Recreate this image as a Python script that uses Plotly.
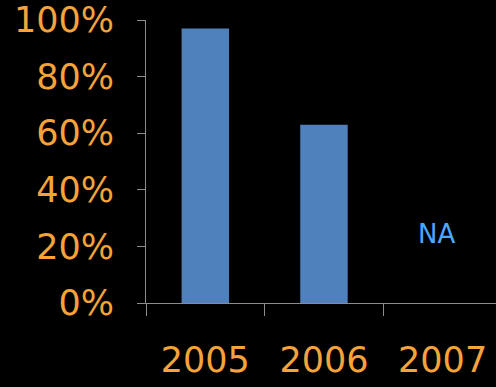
import plotly.graph_objects as go

# Share by year (2007 not available)
years = ["2005", "2006", "2007"]
shares = [97, 63, None]
y_ticks = [0, 20, 40, 60, 80, 100]
y_tick_labels = ["0%", "20%", "40%", "60%", "80%", "100%"]
missing_label = "NA"
missing_index = 2  # position of 2007 on the category axis

orange = "#F5A33A"
bar_blue = "#4F81BD"
axis_gray = "#8C8C8C"
font_family = "DejaVu Sans"

fig = go.Figure()
fig.add_trace(go.Bar(x=years, y=shares, marker=dict(color=bar_blue, line_width=0)))

# label for the year with no data
fig.add_annotation(x=missing_index, y=24.5, xref="x", yref="y",
                   text=missing_label, showarrow=False,
                   font=dict(family=font_family, size=26, color="#4DA6FF"),
                   xshift=-6)

fig.update_layout(
    width=496, height=387,
    paper_bgcolor="black", plot_bgcolor="black",
    margin=dict(l=146, r=0, t=20, b=84),
    bargap=0.6,
    showlegend=False,
    font=dict(family=font_family, color=orange, size=35),
)
fig.update_xaxes(
    type="category", range=[-0.5, 2.45],
    showline=True, linecolor=axis_gray, linewidth=1,
    ticks="outside", tickson="boundaries", ticklen=12, tickcolor=axis_gray,
    ticklabelstandoff=26,
    showgrid=False, zeroline=False,
    tickfont=dict(size=35, color=orange),
)
fig.update_yaxes(
    range=[0, 100], tickvals=y_ticks, ticktext=y_tick_labels,
    showline=True, linecolor=axis_gray, linewidth=1,
    ticks="outside", ticklen=8, tickcolor=axis_gray,
    ticklabelstandoff=16,
    showgrid=False, zeroline=False,
    tickfont=dict(size=35, color=orange),
)

fig.write_html("out.html")
